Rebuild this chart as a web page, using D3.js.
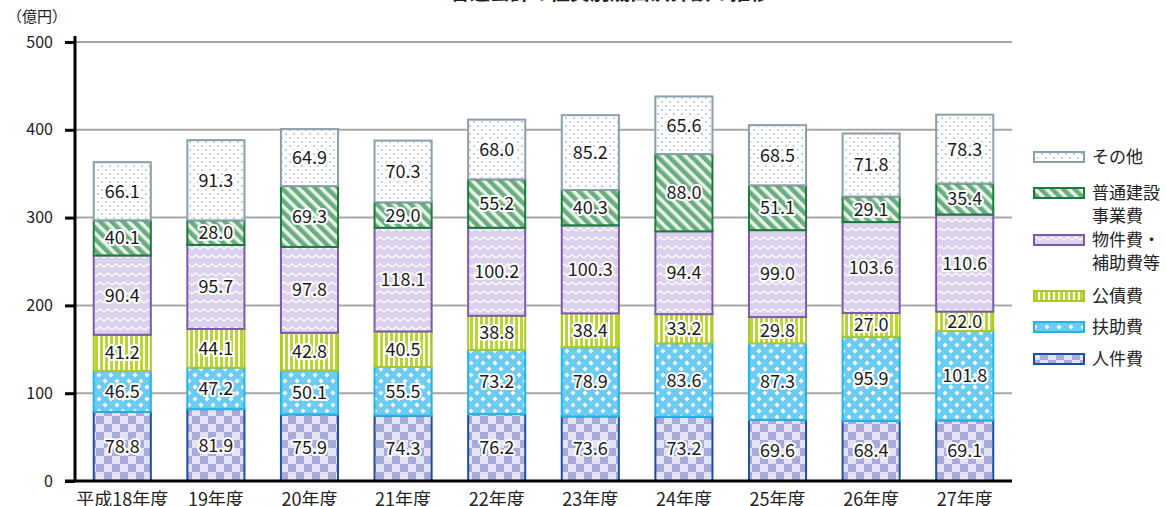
<!DOCTYPE html>
<html>
<head>
<meta charset="utf-8">
<script src="https://cdn.jsdelivr.net/npm/d3@7"></script>
<style>
  body { margin: 0; background: #fff; }
  svg { display: block; font-family: "Noto Sans CJK JP", "Noto Sans", sans-serif; }
</style>
</head>
<body>
<div id="chart"></div>
<script>
// data (億円)
const years = ["平成18年度", "19年度", "20年度", "21年度", "22年度", "23年度", "24年度", "25年度", "26年度", "27年度"];
const jinkenhi  = [78.8, 81.9, 75.9, 74.3, 76.2, 73.6, 73.2, 69.6, 68.4, 69.1];
const fujohi    = [46.5, 47.2, 50.1, 55.5, 73.2, 78.9, 83.6, 87.3, 95.9, 101.8];
const kousaihi  = [41.2, 44.1, 42.8, 40.5, 38.8, 38.4, 33.2, 29.8, 27.0, 22.0];
const bukkenhi  = [90.4, 95.7, 97.8, 118.1, 100.2, 100.3, 94.4, 99.0, 103.6, 110.6];
const kensetsu  = [40.1, 28.0, 69.3, 29.0, 55.2, 40.3, 88.0, 51.1, 29.1, 35.4];
const sonota    = [66.1, 91.3, 64.9, 70.3, 68.0, 85.2, 65.6, 68.5, 71.8, 78.3];
const yTicks = [0, 100, 200, 300, 400, 500];

// stacking order: bottom first
const series = [
  {key: "jinken",   name: ["人件費"],            values: jinkenhi, stroke: "#1d4f9e"},
  {key: "fujo",     name: ["扶助費"],            values: fujohi,   stroke: "#22b4e8"},
  {key: "kousai",   name: ["公債費"],            values: kousaihi, stroke: "#a9c92a"},
  {key: "bukken",   name: ["物件費・", "補助費等"], values: bukkenhi, stroke: "#7c5aa8"},
  {key: "kensetsu", name: ["普通建設", "事業費"],  values: kensetsu, stroke: "#1b7a3c"},
  {key: "sonota",   name: ["その他"],            values: sonota,   stroke: "#8a9eab"}
];

const W = 1166, H = 506;
const svg = d3.select("#chart").append("svg").attr("width", W).attr("height", H);

// ---- patterns ----
const defs = svg.append("defs");

function pat(id, w, h) {
  return defs.append("pattern").attr("id", id).attr("patternUnits", "userSpaceOnUse")
    .attr("width", w).attr("height", h);
}
// checkerboard
let p = pat("p-jinken", 16, 16);
p.append("rect").attr("width", 16).attr("height", 16).attr("fill", "#e3e3f3");
p.append("rect").attr("width", 8).attr("height", 8).attr("fill", "#a8aad9");
p.append("rect").attr("x", 8).attr("y", 8).attr("width", 8).attr("height", 8).attr("fill", "#a8aad9");
// diamonds
p = pat("p-fujo", 12, 12);
p.append("rect").attr("width", 12).attr("height", 12).attr("fill", "#6ccbf3");
p.append("path").attr("d", "M3,0.5 L5.5,3 L3,5.5 L0.5,3Z M9,6.5 L11.5,9 L9,11.5 L6.5,9Z").attr("fill", "#fff");
// vertical stripes
p = pat("p-kousai", 5, 5);
p.append("rect").attr("width", 5).attr("height", 5).attr("fill", "#fff");
p.append("rect").attr("width", 3).attr("height", 5).attr("fill", "#b8d534");
// zigzag
p = pat("p-bukken", 8, 9);
p.append("rect").attr("width", 8).attr("height", 9).attr("fill", "#dcd1ed");
p.append("path").attr("d", "M0,6 L4,3 L8,6").attr("fill", "none").attr("stroke", "#fff").attr("stroke-width", 1.3);
// diagonal stripes
p = pat("p-kensetsu", 8, 8).attr("patternTransform", "rotate(-45)");
p.append("rect").attr("width", 8).attr("height", 8).attr("fill", "#e7f3ea");
p.append("rect").attr("width", 4.5).attr("height", 8).attr("fill", "#6cad80");
// dots
p = pat("p-sonota", 8, 8);
p.append("rect").attr("width", 8).attr("height", 8).attr("fill", "#fff");
p.append("circle").attr("cx", 2).attr("cy", 2).attr("r", 1.1).attr("fill", "#b3c6d6");
p.append("circle").attr("cx", 6).attr("cy", 6).attr("r", 1.1).attr("fill", "#b3c6d6");

// ---- scales ----
const x = d3.scaleBand().domain(years).range([75, 1012]).paddingInner(0.39).paddingOuter(0.2);
const y = d3.scaleLinear().domain([0, 500]).range([481, 42]);

// title (only its lower edge falls inside the frame, as in the source)
svg.append("text").attr("x", 610).attr("y", 0).attr("text-anchor", "middle")
  .attr("font-size", 20).attr("font-weight", "bold").attr("fill", "#222")
  .text("普通会計の性質別歳出決算額の推移");

// grid
svg.append("g").selectAll("line").data(yTicks.filter(d => d > 0)).join("line")
  .attr("x1", 75).attr("x2", 1012).attr("y1", d => y(d)).attr("y2", d => y(d))
  .attr("stroke", "#a6a6a6").attr("stroke-width", 2);

// stacked bars
const table = years.map((yr, i) => {
  const row = {year: yr};
  series.forEach(s => row[s.key] = s.values[i]);
  return row;
});
const stack = d3.stack().keys(series.map(s => s.key))(table);

const layers = svg.append("g").selectAll("g").data(stack).join("g");
layers.each(function(layer, li) {
  const s = series[li];
  d3.select(this).selectAll("rect").data(layer).join("rect")
    .attr("x", d => x(d.data.year))
    .attr("y", d => y(d[1]))
    .attr("width", x.bandwidth())
    .attr("height", d => y(d[0]) - y(d[1]))
    .attr("fill", `url(#p-${s.key})`)
    .attr("stroke", s.stroke).attr("stroke-width", 2);
});

// labels
const labels = svg.append("g").attr("font-size", 18).attr("text-anchor", "middle");
stack.forEach((layer, li) => {
  layer.forEach(d => {
    const v = d[1] - d[0];
    labels.append("text")
      .attr("x", x(d.data.year) + x.bandwidth() / 2)
      .attr("y", y((d[0] + d[1]) / 2))
      .attr("dy", "0.36em")
      .attr("fill", "#1a1a1a")
      .attr("stroke", "#fff").attr("stroke-width", 4).attr("stroke-linejoin", "round")
      .attr("paint-order", "stroke")
      .text(v.toFixed(1));
  });
});

// axes
const yAxis = svg.append("g").attr("transform", "translate(75,0)")
  .call(d3.axisLeft(y).tickValues(yTicks).tickSize(10).tickPadding(12));
yAxis.select(".domain").remove();
yAxis.selectAll(".tick line").attr("stroke", "#000").attr("stroke-width", 3);
yAxis.selectAll(".tick text").attr("font-size", 16).attr("fill", "#222")
  .attr("font-family", "Noto Sans CJK JP");
svg.append("line").attr("x1", 75).attr("x2", 75).attr("y1", 36).attr("y2", 482)
  .attr("stroke", "#000").attr("stroke-width", 3);

const xAxis = svg.append("g").attr("transform", "translate(0,481)")
  .call(d3.axisBottom(x).tickSize(0).tickPadding(12));
xAxis.select(".domain").remove();
xAxis.selectAll(".tick text").attr("font-size", 18).attr("fill", "#222")
  .attr("font-family", "Noto Sans CJK JP");
svg.append("line").attr("x1", 65).attr("x2", 1012).attr("y1", 481).attr("y2", 481)
  .attr("stroke", "#000").attr("stroke-width", 3);

svg.append("text").attr("x", 7).attr("y", 22).attr("font-size", 15).attr("fill", "#222")
  .text("（億円）");

// legend (top item first)
const legendY = [157, 193, 240, 296, 327, 359];
const legend = svg.append("g");
series.slice().reverse().forEach((s, i) => {
  const cy = legendY[i];
  legend.append("rect").attr("x", 1034).attr("y", cy - 5).attr("width", 50).attr("height", 10)
    .attr("fill", `url(#p-${s.key})`).attr("stroke", s.stroke).attr("stroke-width", 2);
  s.name.forEach((t, j) => {
    legend.append("text").attr("x", 1092).attr("y", cy + j * 23).attr("dy", "0.36em")
      .attr("font-size", 17).attr("fill", "#222").text(t);
  });
});
</script>
</body>
</html>
